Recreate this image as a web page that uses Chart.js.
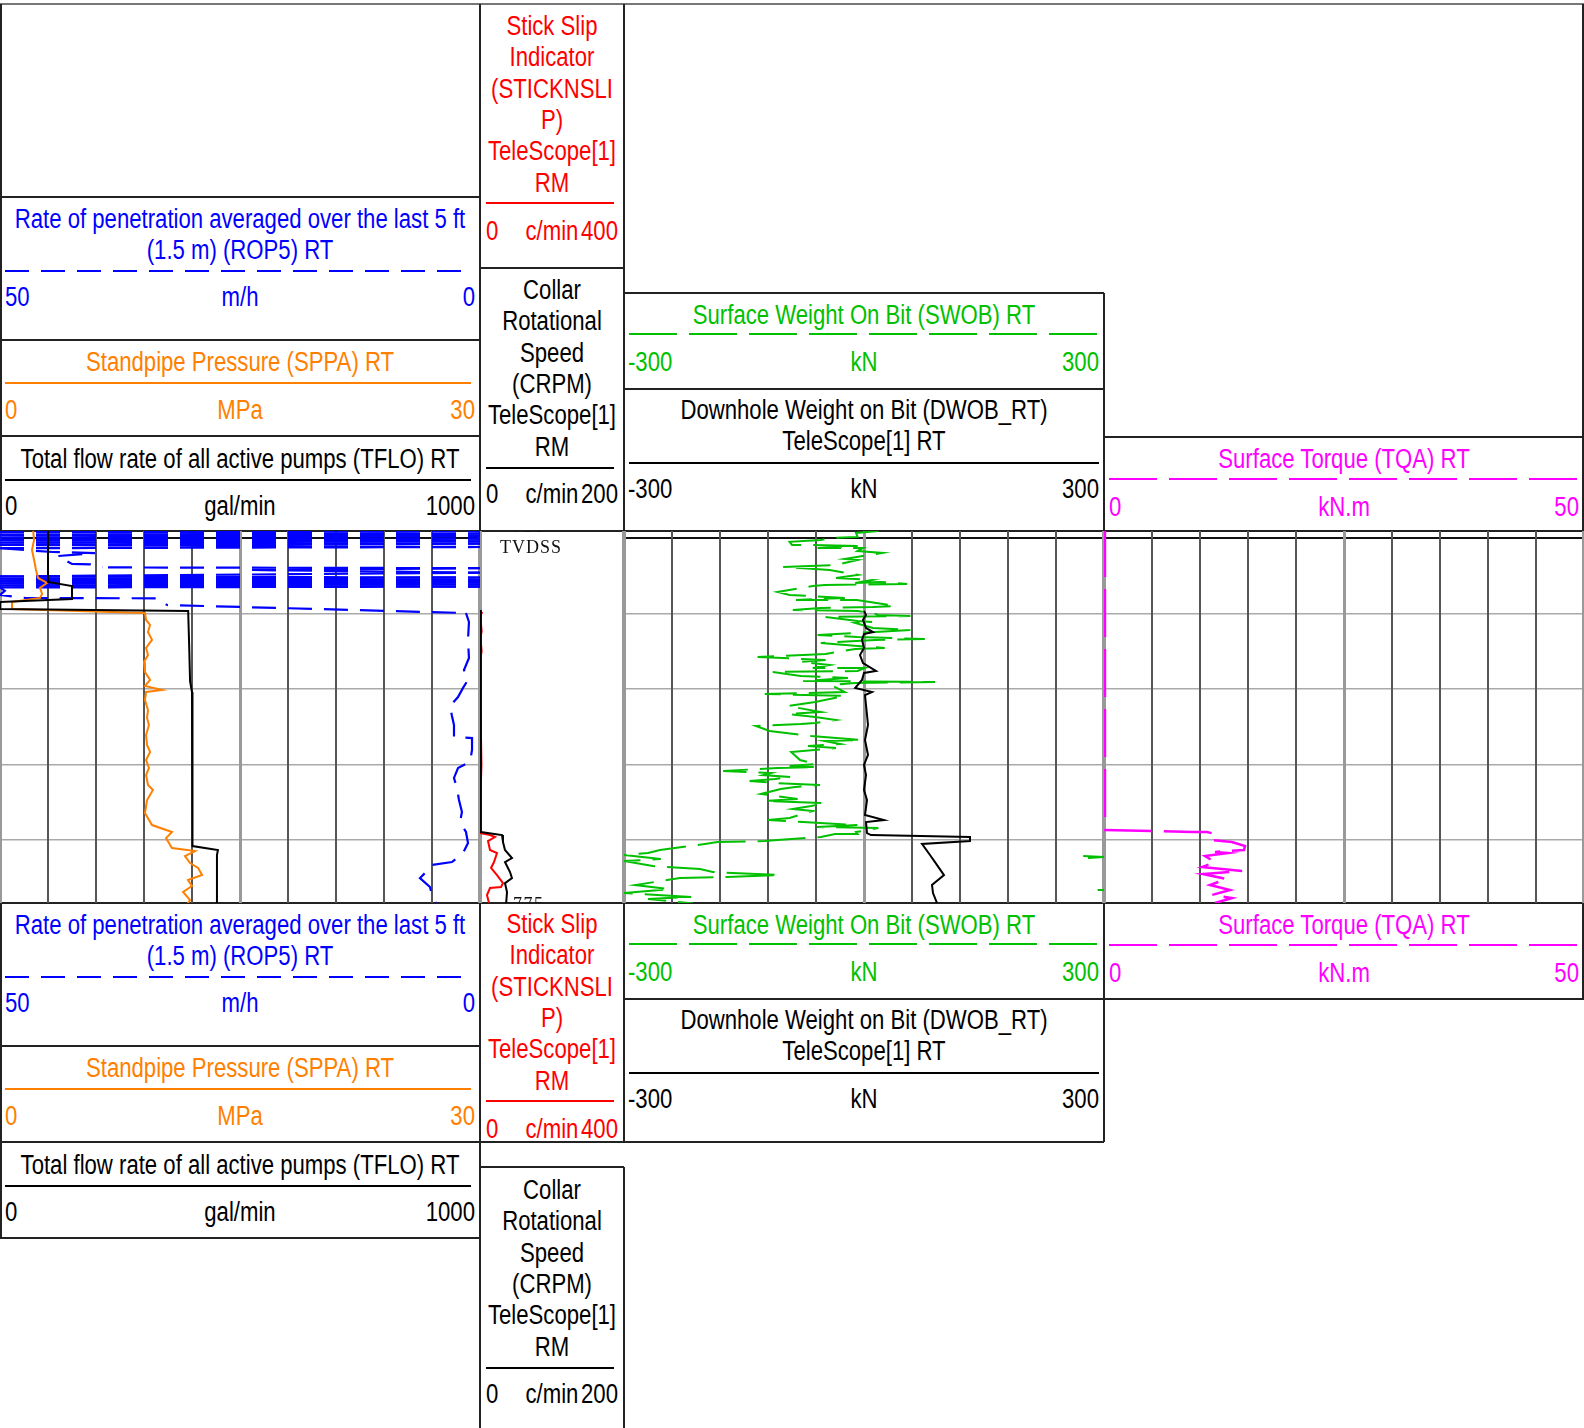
<!DOCTYPE html>
<html><head><meta charset="utf-8">
<script src="https://cdn.jsdelivr.net/npm/chart.js@4/dist/chart.umd.min.js"></script>
<style>
html,body{margin:0;padding:0;background:#fff;}
#root{position:relative;width:1584px;height:1428px;overflow:hidden;background:#fff;}
.t{position:absolute;height:32px;line-height:32px;white-space:nowrap;font-family:"Liberation Sans",Arial,sans-serif;font-size:27px;}
.ln{position:absolute;}
canvas{position:absolute;}
.dl{position:absolute;font-family:"Liberation Serif","DejaVu Serif",serif;font-size:18px;letter-spacing:1px;color:#111;}
</style></head><body><div id="root"></div>
<script>
// ---------------- DATA (value, depth) ----------------
const DEPTH_MIN = 749.54, DEPTH_MAX = 774.17;
const DEPTH_GRID_STEP = 5;
const DEPTH_LABELS = [750, 775];

const ROP5_RANGE = [50, 0];
const SPPA_RANGE = [0, 30];
const TFLO_RANGE = [0, 1000];
const SS_RANGE = [0, 400];
const CRPM_RANGE = [0, 200];
const SWOB_RANGE = [-300, 300];
const DWOB_RANGE = [-300, 300];
const TQA_RANGE = [0, 50];

const ROP5 = [[50,749.45],[0,749.55],[50,749.62],[0,749.72],[50,749.80],[0,749.88],[50,749.97],[0,750.05],[50,750.13],[0,750.22],[50,750.30],[0,750.38],[50,750.46],[0,750.60],[50,750.68],[44.5,750.93],[40.1,751.0],[44,751.2],[42.5,751.72],[40.6,751.75],[39.3,751.95],[0,752.0],[24,752.12],[0,752.3],[50,752.55],[0,752.62],[50,752.70],[0,752.77],[50,752.85],[0,752.92],[50,753.0],[0,753.07],[50,753.15],[0,753.22],[50,753.28],[49.5,753.5],[50,753.77],[47.4,753.97],[33.5,754.0],[32.6,754.44],[1.46,754.97],[1.15,755.56],[1.25,756.75],[1.15,757.95],[1.67,758.74],[1.25,759.40],[1.77,759.93],[2.29,760.53],[3.13,761.13],[2.92,761.79],[2.71,762.38],[2.71,763.18],[0.83,763.25],[0.83,764.04],[1.04,764.83],[2.29,765.23],[2.71,765.89],[2.40,766.56],[2.19,767.35],[1.88,768.15],[2.08,768.81],[1.46,769.47],[1.25,770.20],[1.77,770.86],[2.92,771.46],[5.10,771.66],[5.42,771.99],[6.25,772.52],[5.21,773.11],[5.0,773.64],[4.58,774.17],[4.3,774.4]];

const SPPA = [[2.06,749.4],[2.13,750.13],[2.0,750.79],[2.13,751.46],[2.25,752.12],[2.38,752.65],[2.94,752.98],[2.5,753.31],[2.63,753.71],[2.5,753.97],[0.75,754.24],[0.75,754.70],[9.06,754.97],[9.13,755.43],[9.38,755.76],[9.25,756.23],[9.5,756.75],[9.13,757.28],[9.25,757.75],[9.0,758.21],[9.06,758.87],[9.38,759.40],[9.06,759.80],[10.13,760.07],[9.13,760.20],[9.06,760.73],[9.25,761.39],[9.19,761.92],[9.31,762.38],[9.13,763.05],[9.19,763.71],[9.38,764.17],[9.13,764.70],[9.31,765.23],[9.13,765.70],[9.25,766.36],[9.56,766.69],[9.19,767.35],[9.06,768.21],[9.5,769.01],[10.75,769.47],[10.38,769.87],[10.63,770.33],[10.75,770.53],[12.19,770.73],[11.56,771.06],[11.88,771.52],[12.38,771.85],[12.63,772.32],[11.75,772.65],[12.0,773.05],[11.44,773.44],[11.88,773.97],[11.6,774.4]];

const TFLO = [[100,749.4],[100,752.91],[150,753.18],[150,754.04],[0,754.24],[0,754.70],[392,754.83],[394,757.0],[396,759.5],[400,760.2],[402,762.0],[400,764.0],[402,766.0],[400,768.0],[401,770.4],[454,770.66],[452,771.0],[452,774.4]];

const STICKNSLIP = [[6,754.90],[1.0,755.17],[4.5,756.2],[1.0,756.6],[4.5,757.5],[1.0,758.0],[1.0,760.7],[4.0,765.0],[1.0,767.35],[0.5,769.54],[27.8,769.67],[41.7,769.80],[22.2,770.07],[27.8,770.66],[47.2,770.86],[38.9,771.46],[30.6,771.85],[47.2,772.32],[63.9,772.85],[58.3,773.11],[27.8,773.18],[19.4,773.64],[25.0,774.17],[22,774.4]];

const CRPM = [[1.2,754.77],[1.2,769.47],[30.6,769.67],[31.9,770.13],[34.7,770.66],[44.4,771.19],[34.7,771.46],[41.7,772.12],[44.4,772.52],[34.7,772.85],[37.5,773.44],[36,774.4]];

const SWOB = [[18,749.54],[-10,749.67],[-8,749.93],[-38,750.00],[-54,750.13],[-93,750.26],[-90,750.46],[-74,750.46],[-8,750.53],[-58,750.66],[-1,750.66],[-8,750.86],[23,750.99],[-9,751.26],[-24,751.39],[-8,751.46],[-36,751.79],[-101,751.92],[-43,752.12],[-8,752.45],[-35,752.65],[10,752.78],[-11,752.98],[20,752.91],[54,753.05],[-49,753.11],[-64,753.18],[-108,753.58],[-93,753.77],[-24,753.97],[-85,754.11],[-9,754.11],[39,754.50],[11,754.57],[-54,754.64],[-89,754.77],[-8,754.83],[14,755.03],[18,755.10],[58,755.17],[-48,755.23],[-8,755.50],[10,755.56],[-11,755.63],[11,755.96],[58,756.09],[14,756.23],[-11,756.29],[-58,756.42],[-8,756.56],[76,756.69],[14,756.75],[-54,756.95],[-8,757.15],[26,757.28],[-11,757.35],[-33,757.55],[-48,757.68],[-133,757.88],[-48,758.08],[-79,758.21],[-43,758.41],[-64,758.61],[1,758.61],[-8,758.81],[-114,758.87],[-79,759.14],[-20,759.27],[-76,759.47],[89,759.54],[-11,759.60],[-41,759.74],[-24,760.20],[-124,760.33],[-24,760.46],[-61,760.86],[-95,761.13],[-54,761.52],[-95,761.66],[-61,761.85],[-35,762.05],[-61,762.25],[-79,762.32],[-135,762.45],[-118,762.78],[-66,763.11],[-3,763.38],[-49,763.44],[-30,763.64],[-70,763.77],[-35,763.91],[-91,764.17],[-80,764.70],[-60,764.97],[-93,765.10],[-59,765.17],[-108,765.23],[-176,765.43],[-116,765.56],[-126,765.70],[-91,765.83],[-111,765.96],[-143,766.09],[-109,766.23],[-55,766.36],[-86,766.49],[-104,766.62],[-129,766.95],[-83,767.28],[-124,767.42],[-49,767.55],[-66,767.75],[-89,767.95],[-64,768.08],[-93,768.54],[-120,768.68],[-76,768.81],[-8,769.01],[-59,769.14],[18,769.21],[-10,769.47],[-8,769.60],[-36,769.60],[-54,769.80],[-108,770.00],[-124,770.07],[-183,770.13],[-199,770.26],[-255,770.66],[-270,770.86],[-300,770.99],[-254,771.26],[-300,771.39],[-264,771.72],[-205,771.92],[-189,772.12],[-105,772.32],[-171,772.45],[-230,772.52],[-246,772.65],[-286,772.98],[-243,773.25],[-300,773.51],[-216,773.77],[-270,773.91],[-218,774.17],[-230,774.4],[null,774.4],[274,771.06],[300,771.13],[280,771.19],[null,771.2],[292,773.31],[300,773.31]];

const DWOB = [[0,754.83],[2.5,755.10],[-1.25,755.43],[2.5,755.96],[11.25,756.23],[0,756.36],[-2.5,756.75],[0,757.28],[-5,757.75],[-1.25,758.28],[15,758.81],[0,758.94],[-2.5,759.40],[-11,759.93],[10,760.20],[1.25,760.40],[2.5,761.06],[5,762.38],[1.25,763.38],[5,764.37],[0,765.03],[2.5,765.70],[0,766.69],[3.75,767.35],[1.25,768.34],[25,768.68],[2.5,768.81],[3.75,769.54],[8.75,769.67],[132.5,769.80],[132.5,770.07],[72.5,770.26],[82.5,770.99],[88.75,771.46],[100,772.32],[85,772.98],[86.25,773.51],[91.25,774.17],[90,774.4]];

const TQA = [[0.1,749.4],[0.1,769.34],[9.27,769.47],[10.73,769.47],[11.56,769.60],[11.25,770.0],[13.33,770.13],[14.69,770.40],[14.58,770.66],[11.56,770.79],[12.92,770.86],[10.52,771.06],[11.56,771.46],[10.21,771.79],[14.38,772.05],[10.31,772.25],[12.81,772.58],[11.04,772.98],[13.13,773.31],[11.25,773.64],[13.33,773.84],[11.56,774.17],[12,774.4]];

// ---------------- COLOURS ----------------
const BLUE='#0000ff', ORANGE='#ff8000', BLACK='#000000', RED='#ff0000', GREEN='#00c000', MAGENTA='#ff00ff';

const root = document.getElementById('root');

function txt(s, x, y, color, align){
  const d=document.createElement('div'); d.className='t'; d.textContent=s; d.style.color=color;
  const W=700; d.style.width=W+'px'; d.style.top=(y-16)+'px';
  if(align==='l'){d.style.left=x+'px';d.style.textAlign='left';d.style.transformOrigin='0 50%';}
  else if(align==='r'){d.style.left=(x-W)+'px';d.style.textAlign='right';d.style.transformOrigin='100% 50%';}
  else {d.style.left=(x-W/2)+'px';d.style.textAlign='center';d.style.transformOrigin='50% 50%';}
  d.style.transform='scaleX(0.82)';
  root.appendChild(d);
}
function hl(x1,x2,y,w,c){const d=document.createElement('div');d.className='ln';Object.assign(d.style,{left:x1+'px',top:(y-w/2)+'px',width:(x2-x1)+'px',height:w+'px',background:c});root.appendChild(d);}
function vl(x,y1,y2,w,c){const d=document.createElement('div');d.className='ln';Object.assign(d.style,{left:(x-w/2)+'px',top:y1+'px',width:w+'px',height:(y2-y1)+'px',background:c});root.appendChild(d);}
function dash(x1,x2,y,w,c,a,b){const d=document.createElement('div');d.className='ln';Object.assign(d.style,{left:x1+'px',top:(y-w/2)+'px',width:(x2-x1)+'px',height:w+'px',background:`repeating-linear-gradient(to right, ${c} 0px, ${c} ${a}px, transparent ${a}px, transparent ${a+b}px)`});root.appendChild(d);}

function lbls(range, unit, x1, x2, y, color, lx, rx){
  txt(String(range[0]), lx, y, color, 'l');
  txt(unit, (x1+x2)/2, y, color, 'c');
  txt(String(range[1]), rx, y, color, 'r');
}

// ---------------- HEADERS ----------------
function leftCol(o){
  txt('Rate of penetration averaged over the last 5 ft',240,o+22,BLUE,'c');
  txt('(1.5 m) (ROP5) RT',240,o+53,BLUE,'c');
  dash(5,472,o+74,2,BLUE,24,12);
  lbls(ROP5_RANGE,'m/h',0,480,o+100,BLUE,5,475);
  txt('Standpipe Pressure (SPPA) RT',240,o+165,ORANGE,'c');
  hl(5,471,o+186,2,ORANGE);
  lbls(SPPA_RANGE,'MPa',0,480,o+213,ORANGE,5,475);
  txt('Total flow rate of all active pumps (TFLO) RT',240,o+262,BLACK,'c');
  hl(5,471,o+283,2,BLACK);
  lbls(TFLO_RANGE,'gal/min',0,480,o+309,BLACK,5,475);
}
function ssBox(o){
  const L=['Stick Slip','Indicator','(STICKNSLI','P)','TeleScope[1]','RM'];
  L.forEach((s,i)=>txt(s,552,o+i*31.3,RED,'c'));
  hl(486,614,o+177,2,RED);
  lbls(SS_RANGE,'c/min',480,624,o+205,RED,486,618);
}
function crpmBox(o){
  const L=['Collar','Rotational','Speed','(CRPM)','TeleScope[1]','RM'];
  L.forEach((s,i)=>txt(s,552,o+i*31.3,BLACK,'c'));
  hl(486,614,o+178,2,BLACK);
  lbls(CRPM_RANGE,'c/min',480,624,o+204,BLACK,486,618);
}
function swobBox(o){
  txt('Surface Weight On Bit (SWOB) RT',864,o+22,GREEN,'c');
  dash(629,1099,o+41,2,GREEN,48,12);
  lbls(SWOB_RANGE,'kN',624,1104,o+69,GREEN,628,1099);
}
function dwobBox(o){
  txt('Downhole Weight on Bit (DWOB_RT)',864,o+21,BLACK,'c');
  txt('TeleScope[1] RT',864,o+52,BLACK,'c');
  hl(629,1099,o+74,2,BLACK);
  lbls(DWOB_RANGE,'kN',624,1104,o+100,BLACK,628,1099);
}
function tqaBox(o){
  txt('Surface Torque (TQA) RT',1344,o+22,MAGENTA,'c');
  dash(1109,1579,o+42,2,MAGENTA,48,12);
  lbls(TQA_RANGE,'kN.m',1104,1584,o+70,MAGENTA,1109,1579);
}

// top header
leftCol(197);
ssBox(26);
crpmBox(290);
swobBox(293);
dwobBox(389);
tqaBox(437);
// bottom header
leftCol(903);
ssBox(924);
crpmBox(1190);
swobBox(903);
dwobBox(999);
tqaBox(903);

// header borders
const BC='#222';
hl(0,1584,4,2,'#777');
vl(1,4,531,2,BC);
hl(0,480,197,2,BC); hl(0,480,340,2,BC); hl(0,480,436,2,BC);
vl(480,4,531,2,BC); vl(624,4,531,2,BC);
hl(480,624,268,2,BC);
hl(624,1104,293,2,BC); hl(624,1104,389,2,BC);
vl(1104,293,531,2,BC);
hl(1104,1584,437,2,BC);
vl(1583,4,531,2,BC);
hl(0,1584,531,2,BC);
// bottom borders
hl(0,1584,903,2,BC);
vl(1,903,1238,2,BC);
hl(0,480,1046,2,BC); hl(0,480,1142,2,BC); hl(0,480,1238,2,BC);
vl(480,903,1428,2,BC);
hl(480,624,1142,2,BC); hl(480,624,1167,2,BC);
vl(624,903,1142,2,BC); vl(624,1167,1428,2,BC);
hl(624,1104,999,2,BC); hl(624,1104,1142,2,BC);
vl(1104,903,1142,2,BC);
hl(1104,1584,999,2,BC);
vl(1583,903,999,2,BC);

// ---------------- TRACKS ----------------
const depthLabelPlugin = {
  id:'depthLabels',
  afterDraw(chart){
    const y=chart.scales.y, ctx=chart.ctx;
    ctx.save();
    ctx.font='18px "Liberation Serif", "DejaVu Serif", serif';
    ctx.fillStyle='#111'; ctx.textBaseline='alphabetic';
    DEPTH_LABELS.forEach(v=>{ ctx.fillText(String(v).split('').join(String.fromCharCode(8202)), 33, y.getPixelForValue(v)-6); });
    ctx.restore();
  }
};

// keep dashes of long, nearly horizontal sweeps aligned to the track (like the original log renderer)
function alignedDashOffset(pattern){
  const P=pattern[0]+pattern[1];
  const m=v=>((v%P)+P)%P;
  return c=>{
    const dx=c.p1.x-c.p0.x;
    if(Math.abs(dx)<150) return undefined;
    return dx>0 ? m(c.p0.x) : m(pattern[0]-c.p0.x);
  };
}

function track(left, width, curves, opts){
  const cv=document.createElement('canvas');
  cv.width=width; cv.height=372;
  cv.style.left=left+'px'; cv.style.top='531px';
  cv.style.width=width+'px'; cv.style.height='372px';
  root.appendChild(cv);
  const vd=opts.vdiv;
  const scales={
    y:{type:'linear',axis:'y',position:'left',reverse:true,min:DEPTH_MIN,max:DEPTH_MAX,display:true,
       ticks:{display:false,stepSize:DEPTH_GRID_STEP,includeBounds:false},
       grid:{display:opts.hgrid,drawTicks:false,
         color:c=>(c.tick&&c.tick.value===750)?'#111':'#aaa',
         lineWidth:c=>(c.tick&&c.tick.value===750)?2:1.5},
       border:{display:false}},
    g:{type:'linear',axis:'x',position:'bottom',min:0,max:vd,display:true,
       ticks:{display:false,stepSize:1,includeBounds:false},
       grid:{drawTicks:false,
         color:c=>{const v=c.tick?c.tick.value:0; return (v===0||v===vd||v*2===vd)?'#999':'#555';},
         lineWidth:c=>{const v=c.tick?c.tick.value:0; return (v===0||v===vd)?4:(v*2===vd?3:2);}},
       border:{display:false}}
  };
  const datasets=curves.map((cu,i)=>{
    const id='x'+i;
    scales[id]={type:'linear',axis:'x',position:'top',display:false,
      min:Math.min(cu.range[0],cu.range[1]),max:Math.max(cu.range[0],cu.range[1]),reverse:cu.range[0]>cu.range[1]};
    const ds={data:cu.data.map(p=>({x:p[0],y:p[1]})),xAxisID:id,yAxisID:'y',borderColor:cu.color,
      borderWidth:cu.width,borderDash:cu.dash||[],pointRadius:0,tension:0,fill:false,spanGaps:false};
    if(cu.dash) ds.segment={borderDashOffset:alignedDashOffset(cu.dash)};
    return ds;
  });
  new Chart(cv,{type:'line',data:{datasets},
    options:{responsive:false,animation:false,indexAxis:'y',events:[],devicePixelRatio:1,
      layout:{padding:0},plugins:{legend:{display:false},tooltip:{enabled:false}},scales},
    plugins:opts.plugins||[]});
}

track(0,480,[
  {data:TFLO,range:TFLO_RANGE,color:BLACK,width:2},
  {data:SPPA,range:SPPA_RANGE,color:ORANGE,width:2},
  {data:ROP5,range:ROP5_RANGE,color:BLUE,width:2.2,dash:[24,12]}
],{vdiv:10,hgrid:true});

track(480,144,[
  {data:CRPM,range:CRPM_RANGE,color:BLACK,width:2},
  {data:STICKNSLIP,range:SS_RANGE,color:RED,width:2}
],{vdiv:1,hgrid:false,plugins:[depthLabelPlugin]});

track(624,480,[
  {data:DWOB,range:DWOB_RANGE,color:BLACK,width:2},
  {data:SWOB,range:SWOB_RANGE,color:GREEN,width:2,dash:[48,12]}
],{vdiv:10,hgrid:true});

track(1104,480,[
  {data:TQA,range:TQA_RANGE,color:MAGENTA,width:2.5,dash:[48,12]}
],{vdiv:10,hgrid:true});

// depth track header label
const tv=document.createElement('div'); tv.className='dl'; tv.textContent='TVDSS';
tv.style.left='500px'; tv.style.top='537px'; root.appendChild(tv);
</script>
</body></html>
